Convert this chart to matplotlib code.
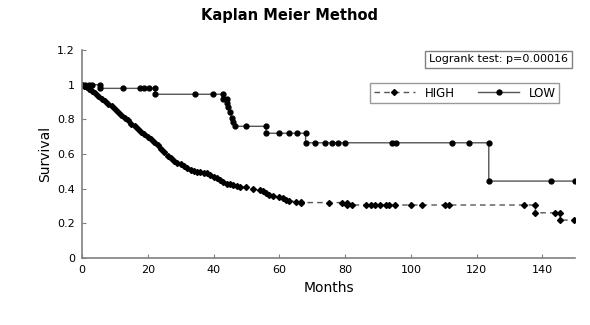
#!/usr/bin/env python3
"""Kaplan Meier survival curves, HIGH vs LOW group."""

import matplotlib
matplotlib.use("Agg")
from matplotlib import pyplot as plt

# HIGH group: (months, survival) points, steps written out where visible
high_months = [
    0, 0.5, 1, 1.5, 2, 3, 4, 5, 6, 7, 8, 9, 10, 11, 12, 13, 14, 15, 16, 17,
    18, 19, 20, 21, 22, 23, 24, 25, 26, 27, 28, 29, 30, 31, 32, 33, 34, 35,
    36, 37, 38, 39, 40, 41, 42, 43, 44, 45, 46, 47, 48, 50, 52, 54, 55, 56,
    57, 58, 60, 61, 62, 63, 65, 66.5, 66.5, 75, 79, 80.5, 80.5, 82, 86.5,
    88, 89, 90.5, 92.3, 93.3, 95.3, 100, 103.4, 110.5, 111.5, 134.3, 137.9,
    137.9, 143.9, 145.4, 145.4, 149.5,
]
high_surv = [
    1.0, 0.995, 0.99, 0.985, 0.975, 0.965, 0.95, 0.935, 0.92, 0.905, 0.89,
    0.875, 0.86, 0.84, 0.825, 0.81, 0.795, 0.775, 0.76, 0.745, 0.73, 0.715,
    0.70, 0.685, 0.67, 0.65, 0.63, 0.61, 0.59, 0.575, 0.56, 0.55, 0.54, 0.53,
    0.52, 0.51, 0.50, 0.495, 0.495, 0.49, 0.49, 0.48, 0.47, 0.46, 0.45, 0.44,
    0.43, 0.425, 0.42, 0.415, 0.41, 0.41, 0.40, 0.39, 0.385, 0.375, 0.365,
    0.36, 0.35, 0.345, 0.335, 0.33, 0.325, 0.325, 0.32, 0.32, 0.32, 0.32,
    0.306, 0.306, 0.306, 0.306, 0.306, 0.306, 0.306, 0.306, 0.306, 0.306,
    0.306, 0.306, 0.306, 0.306, 0.306, 0.261, 0.261, 0.261, 0.219, 0.219,
]

# LOW group
low_months = [
    0, 1, 2, 3, 5.4, 5.4, 12.5, 17.6, 19, 20.4, 22.2, 22.2, 34.4, 39.8, 43,
    43, 44, 44, 44.5, 45, 45.5, 46, 46.5, 49.8, 56, 56, 59.8, 62.8, 65.4,
    68, 68, 71, 74, 76, 78, 80, 94.2, 95.4, 112.5, 117.8, 123.7, 123.7,
    142.5, 150,
]
low_surv = [
    1.0, 1.0, 1.0, 1.0, 1.0, 0.979, 0.979, 0.979, 0.979, 0.979, 0.979, 0.945,
    0.945, 0.945, 0.945, 0.92, 0.92, 0.895, 0.87, 0.84, 0.81, 0.785, 0.76,
    0.76, 0.76, 0.72, 0.72, 0.72, 0.72, 0.72, 0.665, 0.665, 0.665, 0.665,
    0.665, 0.665, 0.665, 0.665, 0.665, 0.665, 0.665, 0.444, 0.444, 0.444,
]

y_ticks = [0, 0.2, 0.4, 0.6, 0.8, 1.0, 1.2]
y_labels = ["0", "0.2", "0.4", "0.6", "0.8", "1", "1.2"]
x_ticks = [0, 20, 40, 60, 80, 100, 120, 140]

fig = plt.figure(figsize=(5.9, 3.25), dpi=100)
ax = fig.add_axes([0.139, 0.206, 0.836, 0.64])

ax.plot(high_months, high_surv, color="#555555", lw=1, ls=(0, (4, 3)),
        marker="D", ms=3, mfc="black", mec="black", label="HIGH")
ax.plot(low_months, low_surv, color="#555555", lw=1, ls="-",
        marker="o", ms=3.5, mfc="black", mec="black", label="LOW")

ax.set_xlim(0, 150)
ax.set_ylim(0, 1.2)
ax.set_xticks(x_ticks)
ax.set_yticks(y_ticks)
ax.set_yticklabels(y_labels)
ax.tick_params(direction="in", length=3, color="#808080", labelsize=8,
               pad=5)
for side in ("top", "right"):
    ax.spines[side].set_visible(False)
for side in ("left", "bottom"):
    ax.spines[side].set_color("#808080")
    ax.spines[side].set_linewidth(1.2)

ax.set_xlabel("Months", fontsize=10)
ax.set_ylabel("Survival", fontsize=10)
fig.suptitle("Kaplan Meier Method", x=0.49, y=0.975, fontsize=10.5,
             fontweight="bold")

leg = ax.legend(loc="upper right", bbox_to_anchor=(0.98, 0.87), ncol=2,
                fontsize=8.5, fancybox=False, edgecolor="#808080",
                handlelength=3.5, columnspacing=2.0, borderpad=0.3)
leg.get_frame().set_linewidth(1)

ax.text(0.985, 0.955, "Logrank test: p=0.00016", transform=ax.transAxes,
        ha="right", va="center", fontsize=8,
        bbox=dict(boxstyle="square,pad=0.35", fc="white", ec="#808080", lw=1))

fig.savefig("out.png")
